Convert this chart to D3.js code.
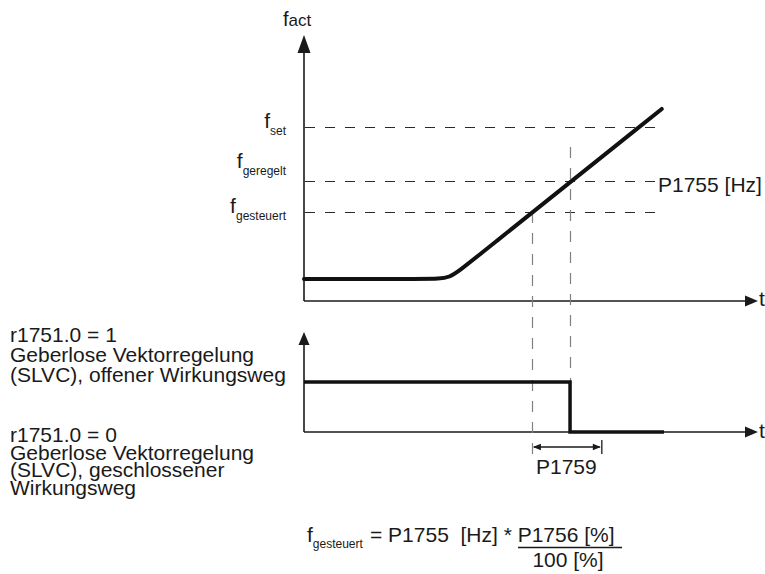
<!DOCTYPE html>
<html lang="de">
<head>
<meta charset="UTF-8">
<title>f_act / SLVC</title>
<script src="https://cdn.jsdelivr.net/npm/d3@7"></script>
<style>
  body { margin: 0; background: #fff; }
  svg { display: block; font-family: "Liberation Sans", Arial, sans-serif; }
  text { fill: #1a1a1a; white-space: pre; }
</style>
</head>
<body>
<div id="chart"></div>
<script>
// domains (arbitrary units)
const timeDomain = [0, 100];
const freqDomain = [0, 100];
const stateDomain = [0, 2];

// f_act over time; the knee gets rounded by curveBasis
const freqTimes = [0, 28, 32, 36, 78.8];
const freqValues = [8.3, 8.3, 8.3, 13.8, 72.2];

// dashed frequency levels
const levelNames = ["set", "geregelt", "gesteuert"];
const levelValues = [65.4, 45.1, 33.5];
const levelEnd = 77.8;

// r1751.0 state over time
const stateTimes = [0, 58.6, 79.3];
const stateValues = [1, 0, 0];

// switching moments
const tGesteuert = 50.2;
const tGeregelt = 58.6;
const tDelayEnd = 65.6;

const width = 765, height = 574;

const x = d3.scaleLinear().domain(timeDomain).range([304, 758]);
const yF = d3.scaleLinear().domain(freqDomain).range([301, 35]);
const yS = d3.scaleLinear().domain(stateDomain).range([432, 332]);

// snap thin lines onto the pixel grid
const crisp = v => Math.round(v) + 0.5;

const svg = d3.select("#chart").append("svg")
    .attr("width", width)
    .attr("height", height)
    .attr("viewBox", [0, 0, width, height]);

const ink = "#1a1a1a";

// ---- axes with arrow heads
function axisUp(x0, yBottom, yTip, len, half) {
    svg.append("line")
        .attr("x1", x0).attr("x2", x0)
        .attr("y1", yBottom).attr("y2", yTip + len - 1)
        .attr("stroke", ink).attr("stroke-width", 1.6);
    svg.append("path")
        .attr("d", `M${x0},${yTip}L${x0 - half},${yTip + len}L${x0 + half},${yTip + len}Z`)
        .attr("fill", ink);
}
function axisRight(xLeft, xTip, y0, len, half) {
    svg.append("line")
        .attr("x1", xLeft).attr("x2", xTip - len + 1)
        .attr("y1", y0).attr("y2", y0)
        .attr("stroke", ink).attr("stroke-width", 1.6);
    svg.append("path")
        .attr("d", `M${xTip},${y0}L${xTip - len},${y0 - half}L${xTip - len},${y0 + half}Z`)
        .attr("fill", ink);
}

axisUp(x(0), yF(0), yF(100), 18, 6.5);
axisRight(x(0), x(100), yF(0), 13, 5.5);
axisUp(x(0), yS(0), yS(2), 13, 5.5);
axisRight(x(0), x(100), yS(0), 13, 5.5);

// ---- dashed level lines
const levels = levelNames.map((n, i) => ({name: n, value: levelValues[i]}));
svg.append("g")
    .selectAll("line")
    .data(levels)
    .join("line")
    .attr("x1", x(0) + 1).attr("x2", x(levelEnd))
    .attr("y1", d => crisp(yF(d.value))).attr("y2", d => crisp(yF(d.value)))
    .attr("stroke", "#2a2a2a").attr("stroke-width", 1)
    .attr("stroke-dasharray", "10,10");

// ---- vertical dashed guides (spanning both panels)
const guides = [
    {t: tGesteuert, y1: yF(levelValues[2]), y2: yS(-0.62)},
    {t: tGeregelt, y1: yF(57.9), y2: yS(1)}
];
svg.append("g")
    .selectAll("line")
    .data(guides)
    .join("line")
    .attr("x1", d => crisp(x(d.t))).attr("x2", d => crisp(x(d.t)))
    .attr("y1", d => d.y1).attr("y2", d => d.y2)
    .attr("stroke", "#808080").attr("stroke-width", 1.2)
    .attr("stroke-dasharray", "11,10");

// ---- f_act curve
const freqLine = d3.line()
    .x((d, i) => x(freqTimes[i]))
    .y(d => yF(d))
    .curve(d3.curveBasis);
svg.append("path")
    .attr("d", freqLine(freqValues))
    .attr("fill", "none")
    .attr("stroke", "#111")
    .attr("stroke-width", 4)
    .attr("stroke-linecap", "round");

// ---- state step
const stateLine = d3.line()
    .x((d, i) => x(stateTimes[i]))
    .y(d => yS(d))
    .curve(d3.curveStepAfter);
svg.append("path")
    .attr("d", stateLine(stateValues))
    .attr("fill", "none")
    .attr("stroke", "#111")
    .attr("stroke-width", 3.5);

// ---- P1759 dimension arrow
const dimY = yS(-0.3);
svg.append("line")
    .attr("x1", x(tGesteuert) + 2).attr("x2", x(tDelayEnd) - 2)
    .attr("y1", dimY).attr("y2", dimY)
    .attr("stroke", ink).attr("stroke-width", 1.3);
svg.append("path")
    .attr("d", `M${x(tGesteuert) + 1},${dimY}l8,-3.2l0,6.4Z M${x(tDelayEnd) - 1},${dimY}l-8,-3.2l0,6.4Z`)
    .attr("fill", ink);
svg.append("line")
    .attr("x1", x(tDelayEnd)).attr("x2", x(tDelayEnd))
    .attr("y1", yS(-0.16)).attr("y2", yS(-0.44))
    .attr("stroke", ink).attr("stroke-width", 1.3);

// ---- texts
function fLabel(sub, xr, yBase, big, small, drop) {
    const t = svg.append("text")
        .attr("x", xr).attr("y", yBase)
        .attr("text-anchor", "end")
        .style("font-size", big + "px")
        .text("f");
    t.append("tspan")
        .attr("dy", drop)
        .style("font-size", small + "px")
        .text(sub);
}
fLabel("set", 286, 128, 21, 12, 7);
fLabel("geregelt", 286, 168, 21, 12, 7);
fLabel("gesteuert", 286, 213, 21, 12, 7);

// axis title f_act
const fact = svg.append("text").attr("x", 283).attr("y", 26).style("font-size", "20px").text("f");
fact.append("tspan").style("font-size", "17px").text("act");

// t labels
svg.append("text").attr("x", 759).attr("y", 306).style("font-size", "21px").text("t");
svg.append("text").attr("x", 759).attr("y", 438).style("font-size", "21px").text("t");

svg.append("text").attr("x", 658).attr("y", 192).style("font-size", "21px").text("P1755 [Hz]");
svg.append("text").attr("x", 536).attr("y", 474).style("font-size", "21px").text("P1759");

// left side descriptions
const block1 = ["r1751.0 = 1", "Geberlose Vektorregelung", "(SLVC), offener Wirkungsweg"];
const block2 = ["r1751.0 = 0", "Geberlose Vektorregelung", "(SLVC), geschlossener", "Wirkungsweg"];
svg.append("g").selectAll("text").data(block1).join("text")
    .attr("x", 10).attr("y", (d, i) => 342 + i * 20)
    .style("font-size", "21px").text(d => d);
svg.append("g").selectAll("text").data(block2).join("text")
    .attr("x", 10).attr("y", (d, i) => 442 + i * 17.7)
    .style("font-size", "21px").text(d => d);

// formula
const ff = svg.append("text").attr("x", 307).attr("y", 542).style("font-size", "21px").text("f");
ff.append("tspan").attr("dy", 6).style("font-size", "12px").text("gesteuert");
svg.append("text").attr("x", 370).attr("y", 542).style("font-size", "21px")
    .text("= P1755  [Hz] * P1756 [%]");
svg.append("line")
    .attr("x1", 518).attr("x2", 622).attr("y1", 547.5).attr("y2", 547.5)
    .attr("stroke", ink).attr("stroke-width", 1.3);
svg.append("text").attr("x", 568).attr("y", 567).attr("text-anchor", "middle")
    .style("font-size", "21px").text("100 [%]");
</script>
</body>
</html>
